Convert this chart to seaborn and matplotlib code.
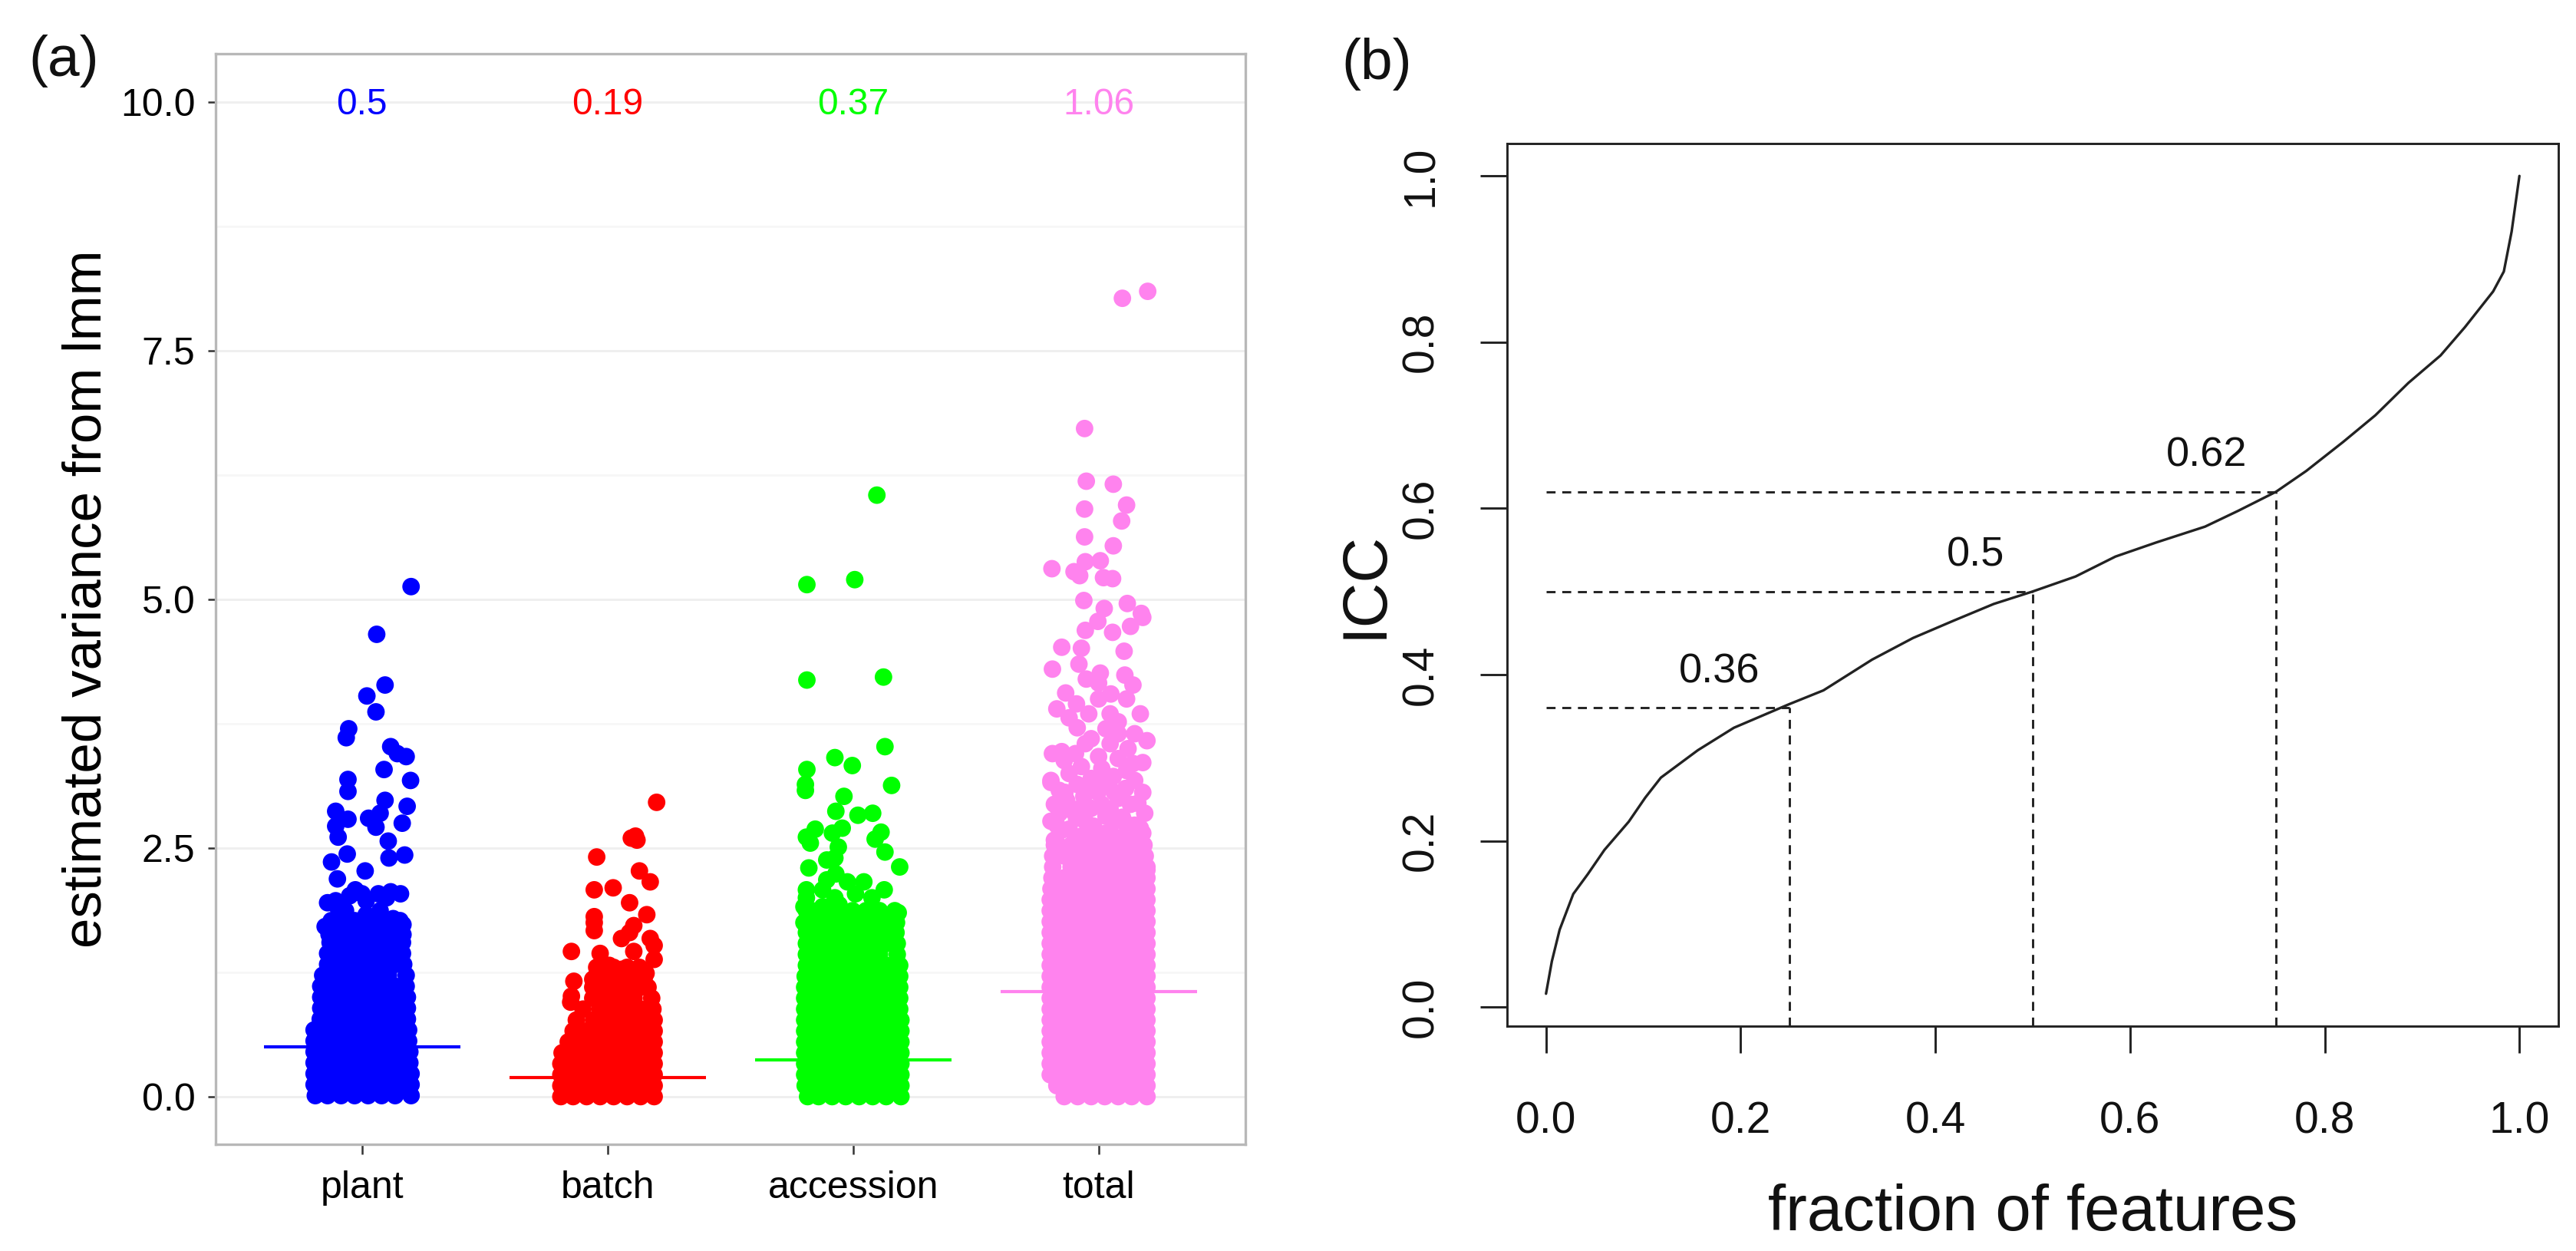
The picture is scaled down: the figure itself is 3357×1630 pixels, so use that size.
import matplotlib

matplotlib.use("Agg")
import pandas as pd
import seaborn as sns
from matplotlib import pyplot as plt

components = ["plant", "batch", "accession", "total"]
component_colors = ["#0000FF", "#FF0000", "#00FF00", "#FF83EE"]
component_means = [0.5, 0.19, 0.37, 1.06]
mean_labels = ["0.5", "0.19", "0.37", "1.06"]

# jitter columns used where the points overlap into a solid mass
row_a = [-0.195, -0.14, -0.085, -0.03, 0.025, 0.08, 0.135, 0.19]
row_b = [-0.168, -0.112, -0.057, -0.002, 0.053, 0.108, 0.163]

# solid part of each cloud: level and left/right jitter reached at that level
plant_levels = [0.01, 0.12, 0.23, 0.34, 0.45, 0.56, 0.67, 0.78, 0.89, 1.0, 1.11, 1.22, 1.33, 1.44, 1.55, 1.66, 1.77]
plant_left = [-0.19, -0.195, -0.195, -0.195, -0.195, -0.195, -0.195, -0.17, -0.168, -0.168, -0.168, -0.16, -0.14, -0.14, -0.13, -0.13, -0.125]
plant_right = [0.2, 0.2, 0.2, 0.195, 0.195, 0.19, 0.19, 0.185, 0.185, 0.185, 0.18, 0.18, 0.17, 0.165, 0.165, 0.16, 0.155]

batch_levels = [0.0, 0.11, 0.22, 0.33, 0.44, 0.55, 0.66, 0.77, 0.88, 0.99, 1.1, 1.2, 1.3]
batch_left = [-0.19, -0.19, -0.19, -0.19, -0.185, -0.16, -0.14, -0.127, -0.1, -0.06, -0.06, -0.05, -0.03]
batch_right = [0.19, 0.19, 0.19, 0.19, 0.19, 0.19, 0.19, 0.19, 0.185, 0.18, 0.165, 0.15, 0.13]

accession_levels = [0.0, 0.11, 0.22, 0.33, 0.44, 0.55, 0.66, 0.77, 0.88, 0.99, 1.1, 1.21, 1.32, 1.43, 1.54, 1.65, 1.76, 1.87]
accession_left = [-0.185, -0.195, -0.197, -0.197, -0.197, -0.197, -0.197, -0.197, -0.197, -0.197, -0.197, -0.195, -0.19, -0.19, -0.19, -0.19, -0.19, -0.19]
accession_right = [0.195, 0.195, 0.195, 0.195, 0.195, 0.195, 0.195, 0.195, 0.19, 0.19, 0.19, 0.19, 0.19, 0.18, 0.18, 0.175, 0.175, 0.17]

total_levels = [0.0, 0.11, 0.22, 0.33, 0.44, 0.55, 0.66, 0.77, 0.88, 0.99, 1.1, 1.21, 1.32, 1.43, 1.54, 1.65, 1.76, 1.87, 1.98, 2.09, 2.2, 2.31, 2.42, 2.53]
total_left = [-0.14, -0.17, -0.197, -0.197, -0.197, -0.197, -0.197, -0.197, -0.197, -0.197, -0.197, -0.197, -0.197, -0.197, -0.197, -0.197, -0.197, -0.197, -0.197, -0.194, -0.19, -0.187, -0.187, -0.18]
total_right = [0.197, 0.197, 0.197, 0.197, 0.197, 0.197, 0.197, 0.197, 0.197, 0.197, 0.197, 0.197, 0.197, 0.197, 0.197, 0.197, 0.197, 0.197, 0.197, 0.197, 0.197, 0.197, 0.19, 0.185]

# separate points above the solid part
plant_values = [5.13, 4.65, 4.14, 4.03, 3.87, 3.70, 3.61, 3.52, 3.45, 3.42, 3.29, 3.18, 3.19, 3.07, 2.98, 2.92,
                2.87, 2.85, 2.80, 2.79, 2.75, 2.72, 2.71, 2.61, 2.57, 2.44, 2.43, 2.40, 2.36, 2.27, 2.19, 2.08,
                2.02, 1.95, 1.97, 2.04, 2.06, 2.04, 2.0, 1.97, 2.04, 1.87, 1.71, 1.69, 1.83, 1.79, 1.73, 1.67,
                1.71, 1.79, 1.87, 1.71, 1.67, 1.63, 1.63, 1.63, 1.91, 1.81]
plant_jitter = [0.2, 0.06, 0.094, 0.02, 0.057, -0.054, -0.064, 0.117, 0.144, 0.18, 0.09, 0.198, -0.057, -0.057, 0.094, 0.184,
                -0.107, 0.074, 0.027, -0.057, 0.164, -0.107, 0.057, -0.097, 0.107, -0.06, 0.174, 0.11, -0.124, 0.013, -0.1, -0.027,
                -0.05, -0.14, -0.107, 0.067, 0.117, 0.157, 0.1, 0.017, 0.0, -0.067, -0.15, -0.117, 0.017, 0.127, 0.167, 0.134,
                -0.033, -0.084, 0.074, 0.1, 0.05, -0.134, -0.05, 0.167, -0.1, 0.067]

batch_values = [2.96, 2.62, 2.60, 2.58, 2.41, 2.27, 2.16, 2.10, 2.08, 1.95, 1.83, 1.81, 1.75, 1.67, 1.72, 1.65,
                1.59, 1.59, 1.52, 1.46, 1.46, 1.44, 1.38, 1.30, 1.32, 1.28, 1.26, 1.24, 1.26, 1.18, 1.16, 1.01, 0.95]
batch_jitter = [0.2, 0.114, 0.097, 0.12, -0.044, 0.13, 0.174, 0.023, -0.054, 0.09, 0.16, -0.054, -0.054, -0.054, 0.107, 0.09,
                0.057, 0.174, 0.19, 0.107, -0.147, -0.03, 0.19, -0.044, 0.007, 0.057, 0.107, 0.157, -0.01, -0.06, -0.137, -0.147, -0.15]

accession_values = [6.05, 5.15, 5.20, 4.19, 4.22, 3.52, 3.41, 3.33, 3.29, 3.14, 3.08, 3.13, 3.02, 2.87, 2.83, 2.85,
                    2.69, 2.70, 2.66, 2.65, 2.61, 2.59, 2.55, 2.51, 2.46, 2.40, 2.38, 2.31, 2.30, 2.24, 2.18, 2.16,
                    2.16, 2.08, 2.08, 2.0, 2.0, 1.91, 1.75, 1.83, 1.93, 1.83, 2.0, 1.75, 1.87, 1.81, 1.75, 1.85,
                    1.71, 2.08, 2.04, 1.91]
accession_jitter = [0.097, -0.188, 0.007, -0.188, 0.124, 0.13, -0.074, -0.003, -0.188, -0.194, -0.194, 0.157, -0.037, -0.07, 0.02, 0.08,
                    -0.154, -0.044, 0.114, -0.084, -0.19, 0.09, -0.174, -0.06, 0.13, -0.074, -0.107, 0.19, -0.18, -0.07, -0.107, 0.044,
                    -0.023, 0.127, -0.19, 0.077, -0.19, -0.2, -0.2, -0.175, -0.057, -0.09, -0.074, 0.027, 0.077, 0.127, 0.177, 0.184,
                    -0.024, -0.124, 0.01, -0.124]

total_values = [8.10, 8.03, 6.72, 6.19, 6.16, 5.95, 5.91, 5.79, 5.63, 5.54, 5.39, 5.38, 5.31, 5.28, 5.24, 5.22,
                5.21, 4.99, 4.96, 4.91, 4.86, 4.82, 4.78, 4.73, 4.69, 4.67, 4.52, 4.51, 4.48, 4.35, 4.30, 4.26,
                4.24, 4.14, 4.16, 4.06, 4.0, 4.0, 3.90, 3.85, 3.85, 3.81, 3.77, 3.71, 3.65, 3.55, 3.58, 3.55,
                3.45, 3.45, 3.40, 3.36, 3.30, 3.32, 3.28, 3.18, 2.77, 2.94, 3.16, 2.55, 2.69, 2.57, 3.06, 2.89,
                3.14, 2.94, 3.06, 2.65, 2.81, 3.06, 2.85, 2.73, 2.65, 2.51, 2.28, 2.44, 2.77, 2.53, 2.44, 2.94,
                3.18, 3.14, 3.16, 2.89, 2.77, 2.73, 2.61, 3.06, 2.40, 2.49, 2.89, 2.44,
                3.6, 3.5, 3.47, 3.42, 3.38, 3.35, 3.25, 3.22, 3.2, 3.1, 3.08, 3.02, 3.0, 2.98, 2.95, 2.9,
                2.85, 2.82, 2.8, 2.75, 2.72, 2.7, 2.68, 2.62, 2.62, 2.6, 2.58, 2.6, 3.7, 3.85, 4.05, 4.2, 3.95, 3.65]
total_jitter = [0.2, 0.097, -0.057, -0.05, 0.06, 0.114, -0.057, 0.094, -0.057, 0.06, 0.007, -0.054, -0.19, -0.1, -0.077, 0.02,
                0.057, -0.06, 0.117, 0.023, 0.174, 0.18, -0.003, 0.13, -0.054, 0.057, -0.15, -0.07, 0.104, -0.08, -0.188, 0.007,
                0.107, 0.14, 0.0, -0.134, 0.114, 0.0, -0.17, 0.17, 0.047, -0.12, 0.08, -0.087, 0.147, 0.047, 0.197, -0.054,
                -0.188, -0.094, 0.08, 0.18, 0.013, -0.07, 0.114, -0.194, -0.194, -0.18, -0.194, -0.17, -0.12, -0.07, -0.137, -0.087,
                -0.037, 0.013, 0.064, 0.03, 0.097, 0.18, 0.188, 0.147, 0.18, 0.114, 0.197, -0.12, -0.054, -0.02, 0.064, 0.13,
                0.147, -0.087, 0.03, -0.12, 0.064, -0.17, 0.097, -0.003, -0.054, 0.147, 0.047, 0.18,
                -0.03, 0.12, -0.15, 0.0, -0.14, 0.14, -0.12, 0.06, -0.03, 0.11, -0.16, -0.06, 0.08, -0.13, 0.16, -0.03,
                -0.16, 0.03, -0.09, 0.11, -0.02, 0.17, -0.15, -0.07, 0.06, 0.15, -0.18, -0.01, 0.03, -0.04, 0.05, -0.05, -0.09, 0.08]

# ICC curve of panel b
feature_fraction = [0.0, 0.006, 0.014, 0.028, 0.043, 0.06, 0.085, 0.102, 0.118, 0.156, 0.193, 0.249, 0.285, 0.335, 0.377, 0.419, 0.46,
                    0.5, 0.544, 0.585, 0.627, 0.677, 0.711, 0.75, 0.781, 0.819, 0.852, 0.886, 0.919, 0.944, 0.973, 0.984, 0.992, 1.0]
icc_values = [0.016, 0.055, 0.093, 0.136, 0.16, 0.189, 0.223, 0.252, 0.276, 0.309, 0.336, 0.364, 0.381, 0.418, 0.444, 0.465, 0.485,
              0.5, 0.518, 0.542, 0.559, 0.578, 0.597, 0.62, 0.645, 0.68, 0.712, 0.751, 0.784, 0.818, 0.861, 0.885, 0.933, 1.0]
quartile_fraction = [0.25, 0.5, 0.75]
quartile_icc = [0.36, 0.5, 0.62]
quartile_labels = ["0.36", "0.5", "0.62"]
label_fraction = [0.178, 0.441, 0.679]
label_icc = [0.403, 0.544, 0.664]


def cloud_frame(index, levels, left, right, values, jitter):
    rows = []
    for i, level in enumerate(levels):
        columns = row_a if i % 2 == 0 else row_b
        inner = [c for c in columns if left[i] + 0.02 < c < right[i] - 0.02]
        for offset in [left[i], *inner, right[i]]:
            rows.append((level, offset))
    rows.extend(zip(values, jitter))
    frame = pd.DataFrame(rows, columns=["variance", "jitter"])
    frame["position"] = index + frame["jitter"]
    frame["component"] = components[index]
    return frame


sns.set_theme(style="white")
plt.rcParams["font.family"] = ["Liberation Sans", "DejaVu Sans"]

cloud = pd.concat(
    [
        cloud_frame(0, plant_levels, plant_left, plant_right, plant_values, plant_jitter),
        cloud_frame(1, batch_levels, batch_left, batch_right, batch_values, batch_jitter),
        cloud_frame(2, accession_levels, accession_left, accession_right, accession_values, accession_jitter),
        cloud_frame(3, total_levels, total_left, total_right, total_values, total_jitter),
    ]
)
curve = pd.DataFrame({"fraction": feature_fraction, "icc": icc_values})

fig = plt.figure(figsize=(3357 / 300, 1630 / 300), dpi=300)
ax_a = fig.add_axes([281 / 3357, 1 - 1491 / 1630, 1342 / 3357, 1421 / 1630])
ax_b = fig.add_axes([1964 / 3357, 1 - 1337 / 1630, 1370 / 3357, 1150 / 1630])

# panel a
ax_a.set_axisbelow(True)
ax_a.grid(False)
ax_a.set_yticks([0, 2.5, 5, 7.5, 10])
ax_a.set_yticklabels(["0.0", "2.5", "5.0", "7.5", "10.0"])
ax_a.set_yticks([1.25, 3.75, 6.25, 8.75], minor=True)
ax_a.yaxis.grid(True, which="major", color="#EFEFEF", linewidth=0.7)
ax_a.yaxis.grid(True, which="minor", color="#F7F7F7", linewidth=0.7)
for i, mean in enumerate(component_means):
    ax_a.hlines(mean, i - 0.4, i + 0.4, color=component_colors[i], linewidth=1.0, zorder=2)
sns.scatterplot(
    data=cloud,
    x="position",
    y="variance",
    hue="component",
    hue_order=components,
    palette=component_colors,
    s=30,
    linewidth=0,
    alpha=1,
    legend=False,
    zorder=3,
    ax=ax_a,
)
for i, label in enumerate(mean_labels):
    ax_a.text(i, 9.98, label, color=component_colors[i], fontsize=11.5, ha="center", va="center", zorder=4)
ax_a.set_xlim(-0.596, 3.598)
ax_a.set_ylim(-0.48, 10.49)
ax_a.set_xticks(range(4))
ax_a.set_xticklabels(components)
ax_a.set_xlabel("")
ax_a.set_ylabel("estimated variance from lmm", fontsize=17, color="black")
ax_a.yaxis.set_label_coords(-0.1, 0.5)
ax_a.tick_params(axis="x", which="major", length=3.2, width=0.6, pad=5, labelsize=12, color="#333333", labelcolor="black", bottom=True)
ax_a.tick_params(axis="y", which="major", length=2.4, width=0.6, pad=4, labelsize=12, color="#333333", labelcolor="black", left=True)
ax_a.tick_params(axis="y", which="minor", length=0)
for spine in ax_a.spines.values():
    spine.set_color("#B8B8B8")
    spine.set_linewidth(0.8)

# panel b
sns.lineplot(data=curve, x="fraction", y="icc", color="#222222", linewidth=0.8, estimator=None, sort=False, ax=ax_b)
ax_b.set_xlim(-0.04, 1.04)
ax_b.set_ylim(-0.023, 1.039)
for x, y, label, lx, ly in zip(quartile_fraction, quartile_icc, quartile_labels, label_fraction, label_icc):
    ax_b.plot([0, x], [y, y], color="#222222", linewidth=0.7, dashes=(4, 3))
    ax_b.plot([x, x], [-0.023, y], color="#222222", linewidth=0.7, dashes=(4, 3))
    ax_b.text(lx, ly, label, fontsize=13, color="#111111", ha="center", va="center")
ax_b.set_xticks([0, 0.2, 0.4, 0.6, 0.8, 1.0])
ax_b.set_xticklabels(["0.0", "0.2", "0.4", "0.6", "0.8", "1.0"])
ax_b.set_yticks([0, 0.2, 0.4, 0.6, 0.8, 1.0])
ax_b.set_yticklabels(["0.0", "0.2", "0.4", "0.6", "0.8", "1.0"], rotation=90, va="center")
ax_b.set_xlabel("fraction of features", fontsize=20, color="#111111")
ax_b.set_ylabel("ICC", fontsize=19.5, color="#111111")
ax_b.xaxis.set_label_coords(0.5, -0.178)
ax_b.yaxis.set_label_coords(-0.107, 0.5)
ax_b.tick_params(axis="both", length=8.4, width=0.7, labelsize=13.7, color="#222222", labelcolor="#111111", bottom=True, left=True)
ax_b.tick_params(axis="x", pad=15)
ax_b.tick_params(axis="y", pad=12)
for spine in ax_b.spines.values():
    spine.set_color("#222222")
    spine.set_linewidth(0.7)

fig.text(37 / 3357, 1 - 79 / 1630, "(a)", fontsize=18, color="#111111", ha="left", va="center")
fig.text(1748 / 3357, 1 - 83 / 1630, "(b)", fontsize=18, color="#111111", ha="left", va="center")

plt.savefig("out.png", dpi=300)
plt.close()
